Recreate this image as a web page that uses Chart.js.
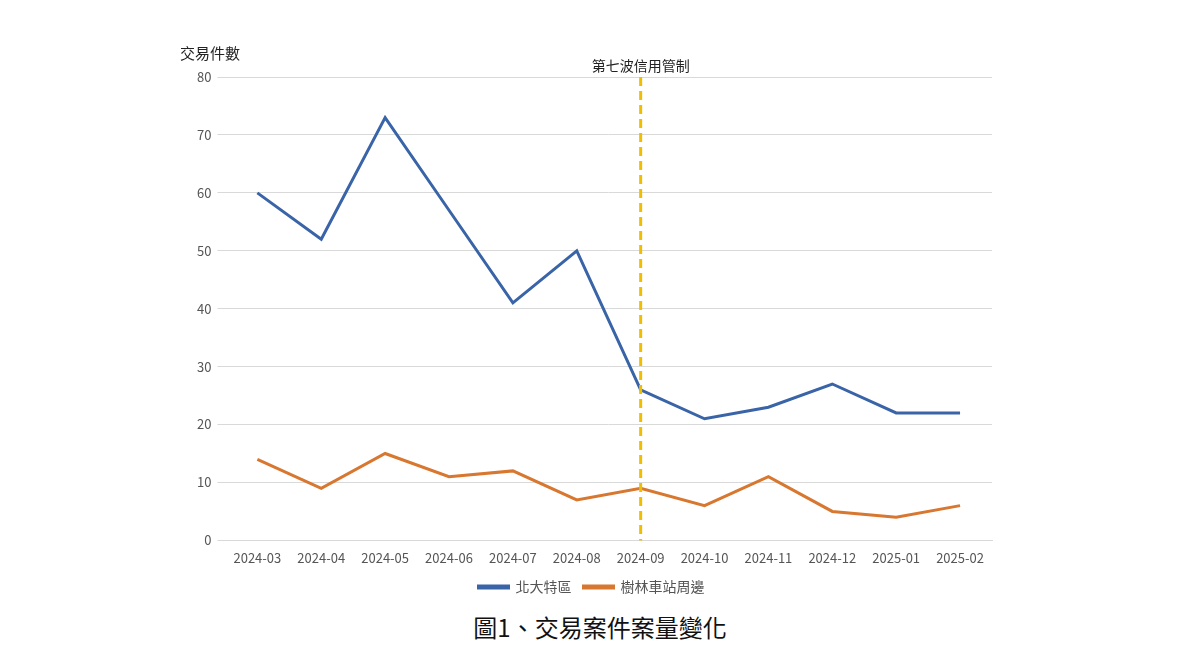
<!DOCTYPE html>
<html>
<head>
<meta charset="utf-8">
<script src="https://cdn.jsdelivr.net/npm/chart.js@4"></script>
<style>
  body { margin: 0; background: #fff; font-family: "Noto Sans CJK TC", sans-serif; }
  #wrap { position: relative; width: 1200px; height: 672px; }
  #title { position: absolute; left: 0; width: 1200px; top: 609px; text-align: center; font-size: 24px; color: #111; }
  canvas { position: absolute; left: 0; top: 0; }
</style>
</head>
<body>
<div id="wrap">
  <canvas id="chart" width="1200" height="604"></canvas>
  <div id="title">圖1、交易案件案量變化</div>
</div>
<script>
// --- Data ---
const months = ['2024-03', '2024-04', '2024-05', '2024-06', '2024-07', '2024-08', '2024-09', '2024-10', '2024-11', '2024-12', '2025-01', '2025-02'];
const beida = [60, 52, 73, 57, 41, 50, 26, 21, 23, 27, 22, 22];
const shulin = [14, 9, 15, 11, 12, 7, 9, 6, 11, 5, 4, 6];
const markerMonth = '2024-09';
const markerLabel = '第七波信用管制';

const font = "'Noto Sans CJK TC', sans-serif";

// Dashed vertical marker + axis title
const markerPlugin = {
  id: 'marker',
  afterDatasetsDraw(chart) {
    const { ctx, scales: { x, y } } = chart;
    const px = x.getPixelForValue(months.indexOf(markerMonth));
    ctx.save();
    ctx.strokeStyle = '#F0BE00';
    ctx.lineWidth = 3;
    ctx.setLineDash([9, 5]);
    ctx.beginPath();
    ctx.moveTo(px, y.top);
    ctx.lineTo(px, y.bottom);
    ctx.stroke();
    ctx.setLineDash([]);
    ctx.fillStyle = '#222';
    ctx.font = '14px ' + font;
    ctx.textAlign = 'center';
    ctx.fillText(markerLabel, px, y.top - 11);
    ctx.font = '15px ' + font;
    ctx.fillText('交易件數', 210, 53);
    ctx.restore();
  }
};

new Chart(document.getElementById('chart'), {
  type: 'line',
  data: {
    labels: months,
    datasets: [
      { label: '北大特區', data: beida, borderColor: '#3A64A8', backgroundColor: '#3A64A8', borderWidth: 3, pointRadius: 0, tension: 0 },
      { label: '樹林車站周邊', data: shulin, borderColor: '#D8772F', backgroundColor: '#D8772F', borderWidth: 3, pointRadius: 0, tension: 0 }
    ]
  },
  options: {
    responsive: false,
    animation: false,
    layout: { padding: { left: 191, right: 208, top: 77, bottom: 0 } },
    scales: {
      x: {
        offset: true,
        grid: { display: false },
        border: { color: '#d9d9d9' },
        ticks: { color: '#555', font: { size: 13, family: font }, maxRotation: 0, padding: 2 }
      },
      y: {
        min: 0, max: 80,
        ticks: { stepSize: 10, color: '#555', font: { size: 13, family: font }, padding: 6 },
        grid: { color: '#d9d9d9' },
        border: { display: false }
      }
    },
    plugins: {
      legend: {
        position: 'bottom',
        labels: { boxWidth: 30, boxHeight: 2, color: '#555', font: { size: 14, family: font }, padding: 12 }
      },
      tooltip: { enabled: false }
    }
  },
  plugins: [markerPlugin]
});
</script>
</body>
</html>
